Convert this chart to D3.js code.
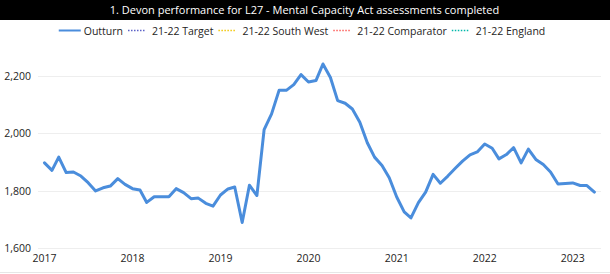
<!DOCTYPE html>
<html>
<head>
<meta charset="utf-8">
<script src="https://cdn.jsdelivr.net/npm/d3@7"></script>
<style>
  body { margin: 0; background: #fff; }
  svg { display: block; font-family: "Segoe UI", "Open Sans", sans-serif; }
</style>
</head>
<body>
<script>
// monthly outturn, Jan 2017 .. Apr 2023
let outturn = [
  1897, 1871, 1917, 1863, 1865, 1851, 1828, 1799, 1810, 1816, 1842, 1822,
  1807, 1802, 1759, 1779, 1779, 1779, 1807, 1793, 1772, 1774, 1756, 1746,
  1785, 1806, 1813, 1689, 1819, 1783, 2013, 2068, 2150, 2150, 2170, 2205,
  2179, 2184, 2242, 2195, 2114, 2105, 2085, 2039, 1967, 1917, 1888, 1845,
  1778, 1726, 1705, 1758, 1795, 1857, 1826, 1851, 1878, 1903, 1925, 1935,
  1963, 1948, 1911, 1926, 1950, 1897, 1945, 1909, 1891, 1865, 1823, 1825,
  1827, 1818, 1818, 1795
];
let yTicks = [1600, 1800, 2000, 2200];
let xTickYears = [2017, 2018, 2019, 2020, 2021, 2022, 2023];
let legendItems = [
  {name: 'Outturn', color: '#4a8ddc', dash: null},
  {name: '21-22 Target', color: '#5b61c7', dash: '1.5,1.5'},
  {name: '21-22 South West', color: '#f2c80f', dash: '1.5,1.5'},
  {name: '21-22 Comparator', color: '#fd625e', dash: '1.5,1.5'},
  {name: '21-22 England', color: '#01b8aa', dash: '1.5,1.5'}
];
let title = '1. Devon performance for L27 - Mental Capacity Act assessments completed';

let W = 610, H = 274;
let data = outturn.map((v, i) => ({date: new Date(2017, i, 1), value: v}));

let svg = d3.select('body').append('svg')
  .attr('width', W)
  .attr('height', H);

// title bar
svg.append('rect')
  .attr('x', 0).attr('y', 0)
  .attr('width', W).attr('height', 20)
  .attr('fill', '#000');
svg.append('text')
  .attr('x', 304.5).attr('y', 14)
  .attr('text-anchor', 'middle')
  .attr('fill', '#fff')
  .style('font-size', '11px')
  .text(title);

// legend, laid out from measured text widths
let legend = svg.append('g');
let lx = 0;
legendItems.forEach(item => {
  let g = legend.append('g').attr('transform', 'translate(' + lx + ',0)');
  g.append('line')
    .attr('x1', 0).attr('x2', item.dash ? 18 : 22)
    .attr('y1', 30.5).attr('y2', 30.5)
    .attr('stroke', item.color)
    .attr('stroke-width', item.dash ? 1.5 : 2)
    .attr('stroke-dasharray', item.dash);
  let t = g.append('text')
    .attr('x', item.dash ? 24 : 25).attr('y', 34.5)
    .attr('fill', '#252423')
    .style('font-size', '10.5px')
    .text(item.name);
  lx += (item.dash ? 24 : 25) + t.node().getComputedTextLength() + 5;
});
legend.attr('transform', 'translate(' + (302 - (lx - 5) / 2) + ',0)');

// scales
let x = d3.scaleTime()
  .domain([data[0].date, data[data.length - 1].date])
  .range([44.5, 594.4]);
let y = d3.scaleLinear()
  .domain([1600, 2200])
  .range([248, 76]);

// gridlines
svg.append('g')
  .selectAll('line')
  .data(yTicks)
  .join('line')
  .attr('x1', 38).attr('x2', 601)
  .attr('y1', d => Math.round(y(d)) + 0.5)
  .attr('y2', d => Math.round(y(d)) + 0.5)
  .attr('stroke', '#eeeeee')
  .attr('stroke-width', 1);

// y axis labels
svg.append('g')
  .selectAll('text')
  .data(yTicks)
  .join('text')
  .attr('x', 31)
  .attr('y', d => y(d) + 4)
  .attr('text-anchor', 'end')
  .attr('fill', '#252423')
  .style('font-size', '10.5px')
  .text(d => d3.format(',')(d));

// x axis labels
svg.append('g')
  .selectAll('text')
  .data(xTickYears)
  .join('text')
  .attr('x', d => x(new Date(d, 0, 1)))
  .attr('y', 262)
  .attr('text-anchor', 'middle')
  .attr('fill', '#252423')
  .style('font-size', '10.5px')
  .text(d => d);

// bottom border
svg.append('line')
  .attr('x1', 0).attr('x2', W)
  .attr('y1', 272.5).attr('y2', 272.5)
  .attr('stroke', '#e6e6e6');

// outturn line
let line = d3.line()
  .x(d => x(d.date))
  .y(d => y(d.value));

svg.append('path')
  .datum(data)
  .attr('d', line)
  .attr('fill', 'none')
  .attr('stroke', '#4a8ddc')
  .attr('stroke-width', 3)
  .attr('stroke-linejoin', 'round')
  .attr('stroke-linecap', 'round');
</script>
</body>
</html>
